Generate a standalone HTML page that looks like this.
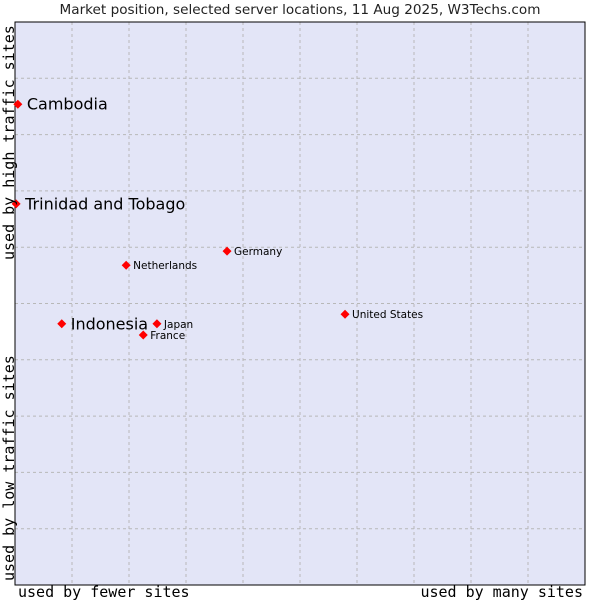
<!DOCTYPE html>
<html><head><meta charset="utf-8"><style>
body{margin:0;background:#fff;}
svg{display:block;font-family:"DejaVu Sans","Liberation Sans",sans-serif;}
</style></head><body>
<svg id="chart" width="600" height="600">
<text x="300" y="14" text-anchor="middle" font-size="13.6" fill="#222">Market position, selected server locations, 11 Aug 2025, W3Techs.com</text>
<rect x="15" y="22" width="570" height="563" fill="#e3e5f7"/>
<g id="grid"></g>
<rect x="15" y="22" width="570" height="563" fill="none" stroke="#000" stroke-width="1"/>
<g id="points"></g>
<text x="18" y="597" font-family="DejaVu Sans Mono,Liberation Mono,monospace" font-size="15" fill="#000">used by fewer sites</text>
<text x="583" y="597" text-anchor="end" font-family="DejaVu Sans Mono,Liberation Mono,monospace" font-size="15" fill="#000">used by many sites</text>
<text transform="translate(14,581) rotate(-90)" font-family="DejaVu Sans Mono,Liberation Mono,monospace" font-size="15" fill="#000">used by low traffic sites</text>
<text transform="translate(14,260) rotate(-90)" font-family="DejaVu Sans Mono,Liberation Mono,monospace" font-size="15" fill="#000">used by high traffic sites</text>
</svg>
<script>
const names=["Cambodia","Trinidad and Tobago","Netherlands","Germany","United States","Indonesia","Japan","France"];
const xVals=[0.5,0.2,19.5,37.2,57.9,8.2,24.9,22.5];
const yVals=[85.4,67.7,56.8,59.3,48.1,46.4,46.4,44.4];
const bigLabel=[true,true,false,false,false,true,false,false];
const NS="http://www.w3.org/2000/svg";
const L=15,T=22,W=570,H=563;
function sx(v){return L+v/100*W;}
function sy(v){return T+H-v/100*H;}
const grid=document.getElementById('grid');
for(let i=1;i<10;i++){
  const v=document.createElementNS(NS,'line');
  v.setAttribute('x1',sx(i*10));v.setAttribute('x2',sx(i*10));v.setAttribute('y1',T);v.setAttribute('y2',T+H);
  v.setAttribute('stroke','#b8b8b8');v.setAttribute('stroke-dasharray','3,3');
  
  
  grid.appendChild(v);
  const h=document.createElementNS(NS,'line');
  h.setAttribute('y1',sy(i*10));h.setAttribute('y2',sy(i*10));h.setAttribute('x1',L);h.setAttribute('x2',L+W);
  h.setAttribute('stroke','#b8b8b8');h.setAttribute('stroke-dasharray','3,3');
  
  
  grid.appendChild(h);
}
const pts=document.getElementById('points');
names.forEach((n,i)=>{
  const x=sx(xVals[i]),y=sy(yVals[i]);
  const d=document.createElementNS(NS,'path');
  d.setAttribute('d',`M${x} ${y-4.5}L${x+4.5} ${y}L${x} ${y+4.5}L${x-4.5} ${y}Z`);
  d.setAttribute('fill','#f00');
  
  
  pts.appendChild(d);
  const t=document.createElementNS(NS,'text');
  t.setAttribute('x',x+(bigLabel[i]?9:7));
  t.setAttribute('y',y+(bigLabel[i]?5.5:4));
  t.setAttribute('font-size',bigLabel[i]?16:10.5);
  t.setAttribute('fill','#000');
  t.textContent=n;
  
  
  pts.appendChild(t);
});
</script>
</body></html>
